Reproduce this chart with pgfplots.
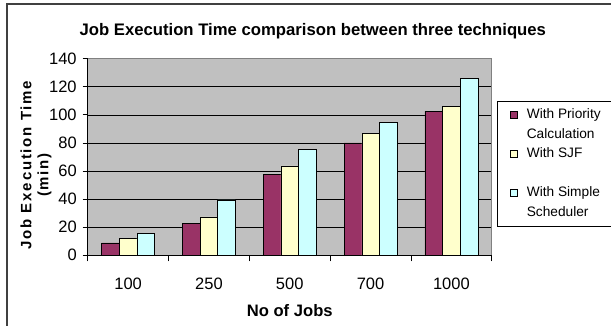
\documentclass[border=0pt]{standalone}
\usepackage{pgfplots}
\pgfplotsset{compat=1.18}
\usepackage{fontspec}
\setmainfont{Liberation Sans}
\definecolor{barA}{HTML}{993366}
\definecolor{barB}{HTML}{FFFFCC}
\definecolor{barC}{HTML}{CCFFFF}
\definecolor{plotbg}{HTML}{C0C0C0}
\pgfplotsset{mylegend/.style={legend image code/.code={\draw[##1,draw=black,line width=0.5bp] (0bp,20bp) rectangle (7bp,27bp);}},
  mylegendlast/.style={legend image code/.code={\path (0bp,-7bp); \draw[##1,draw=black,line width=0.5bp] (0bp,20bp) rectangle (7bp,27bp);}}}
\newcommand{\legtext}[2]{\begin{tabular}[b]{@{}l@{}}#1\\#2\end{tabular}}
\begin{document}
\begin{tikzpicture}
\path[use as bounding box] (0,0) rectangle (611bp,326bp);
\draw[line width=1.2bp, black!75] (7bp,-5bp) -- (7bp,322bp) -- (620bp,322bp);
\begin{axis}[
  at={(87.7bp,70.7bp)}, anchor=south west,
  scale only axis, width=404.1bp, height=196.6bp,
  ybar=0bp, bar width=17.6bp,
  xmin=-0.5, xmax=4.5, ymin=0, ymax=140,
  ytick={0,20,...,140},
  xtick={0,1,2,3,4}, xticklabels={100,250,500,700,1000},
  minor xtick={-0.5,0.5,...,4.5},
  major x tick style={draw=none},
  tick align=outside, major tick length=5bp, minor tick length=6bp,
  axis x line*=bottom, axis y line*=left,
  axis line style={black, line width=0.8bp},
  tick style={black, line width=0.8bp},
  ymajorgrids, grid style={black, line width=0.6bp},
  axis background/.style={fill=plotbg},
  /pgf/number format/assume math mode=true,
  tick label style={font=\fontsize{16.5bp}{18bp}\selectfont},
  yticklabel style={xshift=-2.5bp},
  xticklabel style={anchor=base, yshift=-29bp},
  title={Job Execution Time comparison between three techniques},
  title style={at={(axis description cs:0.557,1.09)}, anchor=base, font=\fontsize{16.7bp}{18bp}\selectfont\bfseries},
  xlabel={No of Jobs},
  xlabel style={at={(axis description cs:0.5,0)}, anchor=base, yshift=-61bp, font=\fontsize{16.6bp}{18bp}\selectfont\bfseries},
  ylabel={Job Execution Time\\(min)\hspace*{20bp}},
  ylabel style={at={(axis description cs:-0.081,0.459)}, anchor=south, align=center, font=\fontsize{15bp}{17bp}\selectfont\bfseries\addfontfeature{LetterSpace=12}},
  legend style={at={(rel axis cs:1.013,0.785)}, anchor=north west, draw=black, line width=0.6bp, fill=white,
    font=\fontsize{13.7bp}{20bp}\selectfont, row sep=3.5bp, inner xsep=13bp, inner ysep=3bp, column sep=9bp,
    nodes={inner sep=0bp}, cells={anchor=base west}},
  after end axis/.code={\draw[gray, line width=0.6bp] (rel axis cs:0,1) -- (rel axis cs:1,1) -- (rel axis cs:1,0);},
]
\addplot[fill=barA, draw=black, line width=0.5bp, mylegend] coordinates {(0,8.8) (1,22.8) (2,57.7) (3,80) (4,102.5)};
\addplot[fill=barB, draw=black, line width=0.5bp, mylegend] coordinates {(0,11.9) (1,27.3) (2,63.6) (3,86.6) (4,105.8)};
\addplot[fill=barC, draw=black, line width=0.5bp, mylegendlast] coordinates {(0,15.4) (1,39.4) (2,75.2) (3,94.7) (4,126.2)};
\addlegendentry{\legtext{With Priority}{Calculation\hspace{60bp}}}
\addlegendentry{\legtext{With SJF}{\mbox{}}}
\addlegendentry{\legtext{With Simple}{Scheduler}}
\end{axis}
\end{tikzpicture}
\end{document}
